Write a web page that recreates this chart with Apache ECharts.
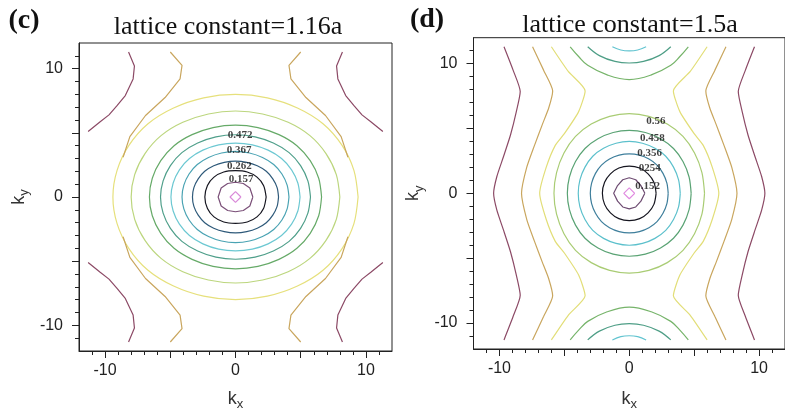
<!DOCTYPE html>
<html>
<head>
<meta charset="utf-8">
<script src="https://cdn.jsdelivr.net/npm/echarts@6/dist/echarts.min.js"></script>
<style>
  html, body { margin: 0; padding: 0; background: #fff; }
  #chart { width: 785px; height: 416px; }
</style>
</head>
<body>
<div id="chart"></div>
<script>
  // ticks
  const tickLabels = [-10, 0, 10];
  const majorTicks = [-10, -5, 0, 5, 10];
  const minorTicks = [-11, -10, -9, -8, -7, -6, -5, -4, -3, -2, -1, 0, 1, 2, 3, 4, 5, 6, 7, 8, 9, 10, 11];

  // (c) closed contours, inner to outer, one quadrant each: from (kx, 0) to (0, ky)
  const cRings = [
    [[0.42, 0], [0, 0.42]],
    [[1.33, 0], [1.1, 0.7], [0.6, 1.05], [0, 1.15]],
    [[2.35, 0], [2.15, 0.9], [1.65, 1.55], [0.9, 1.95], [0, 2.05]],
    [[3.3, 0], [3.19, 0.73], [2.86, 1.41], [2.36, 2.0], [1.67, 2.43], [0.86, 2.7], [0, 2.8]],
    [[4.1, 0], [3.96, 0.92], [3.56, 1.79], [2.93, 2.53], [2.07, 3.08], [1.07, 3.43], [0, 3.55]],
    [[4.95, 0], [4.78, 1.09], [4.3, 2.12], [3.53, 3.0], [2.5, 3.65], [1.29, 4.06], [0, 4.2]],
    [[5.75, 0], [5.55, 1.26], [4.99, 2.45], [4.11, 3.46], [2.9, 4.21], [1.5, 4.69], [0, 4.85]],
    [[6.6, 0], [6.38, 1.46], [5.73, 2.83], [4.71, 4.0], [3.33, 4.86], [1.72, 5.41], [0, 5.6]],
    [[8.0, 0], [7.73, 1.74], [6.94, 3.38], [5.71, 4.78], [4.04, 5.82], [2.08, 6.47], [0, 6.7]],
    [[9.4, 0], [9.08, 2.08], [8.16, 4.04], [6.71, 5.71], [4.75, 6.94], [2.44, 7.73], [0, 8.0]]
  ];
  // (c) open contours in the upper-left corner (same in every corner)
  const cCorner = [
    [[-5.0, 11.3], [-4.1, 10.25], [-4.25, 9.2], [-5.4, 7.75], [-6.9, 6.35], [-8.1, 4.7], [-8.62, 3.1]],
    [[-8.2, 11.3], [-7.75, 10.2], [-7.85, 9.2], [-8.45, 7.9], [-9.1, 7.1], [-9.7, 6.4], [-10.4, 5.85], [-11.3, 5.1]]
  ];
  const cLabels = [[0.35, 4.82, '0.472'], [0.27, 3.64, '0.367'], [0.29, 2.44, '0.262'], [0.44, 1.37, '0.157']];

  // (d) closed contours, inner to outer, one quadrant each
  const dRings = [
    [[0.42, 0], [0, 0.42]],
    [[1.2, 0], [0.9, 0.6], [0.5, 1.05], [0, 1.2]],
    [[2.07, 0], [1.9, 0.85], [1.45, 1.5], [0.8, 1.95], [0, 2.1]],
    [[3.0, 0], [2.9, 0.79], [2.6, 1.54], [2.14, 2.18], [1.52, 2.65], [0.78, 2.95], [0, 3.05]],
    [[3.93, 0], [3.8, 1.04], [3.41, 2.02], [2.81, 2.86], [1.98, 3.47], [1.02, 3.86], [0, 4.0]],
    [[4.77, 0], [4.61, 1.26], [4.14, 2.45], [3.41, 3.46], [2.41, 4.21], [1.24, 4.69], [0, 4.85]],
    [[5.8, 0], [5.6, 1.6], [5.03, 3.11], [4.14, 4.39], [2.93, 5.34], [1.51, 5.94], [0, 6.15]]
  ];
  // (d) open contours on the left side, top edge down to ky = 0
  const dSides = [
    [[-9.65, 11.3], [-8.95, 9.5], [-8.4, 7.85], [-8.7, 6.3], [-9.15, 4.5], [-9.7, 2.8], [-10.2, 1.3], [-10.45, 0]],
    [[-7.45, 11.3], [-6.6, 9.5], [-5.9, 7.9], [-6.2, 6.6], [-6.7, 5.3], [-7.3, 3.7], [-7.9, 2.0], [-8.3, 0]],
    [[-6.0, 11.3], [-4.7, 9.4], [-3.4, 7.9], [-3.9, 6.3], [-5.0, 4.6], [-5.7, 3.7], [-6.4, 2.0], [-6.9, 0]]
  ];
  // (d) arcs at the top edge, left half
  const dArcs = [
    [[-1.3, 11.3], [-0.65, 11.05], [0, 10.98]],
    [[-3.2, 11.3], [-2.3, 10.62], [-1.1, 10.17], [0, 10.05]],
    [[-4.55, 11.3], [-3.9, 10.55], [-3.2, 9.87], [-1.7, 9.13], [0, 8.77]]
  ];
  const dLabels = [[2.06, 5.6, '0.56'], [1.79, 4.28, '0.458'], [1.57, 3.1, '0.356'], [1.57, 1.91, '0254'], [1.42, 0.52, '0.152']];

  // colours
  const cRingColors = ['#d98ad9', '#7a4f78', '#15151f', '#2f5a7a', '#4aa3b3', '#6cc8d2', '#4f9f8a', '#66aa68', '#bcd67e', '#e6e07c'];
  const cCornerColors = ['#c9a65e', '#8c4a66'];
  const dRingColors = ['#e08ae0', '#6e4c72', '#15151f', '#3f7f9c', '#5cc0cc', '#5aa374', '#a9cc74'];
  const dSideColors = ['#8c4a66', '#c9a65e', '#e2de78'];
  const dArcColors = ['#62c4d0', '#4e9e86', '#76b46a'];

  function ring(q) {
    const pts = q.slice();
    for (let i = q.length - 2; i >= 0; i--) pts.push([-q[i][0], q[i][1]]);
    for (let i = 1; i < q.length; i++) pts.push([-q[i][0], -q[i][1]]);
    for (let i = q.length - 2; i >= 0; i--) pts.push([q[i][0], -q[i][1]]);
    return pts;
  }
  function side(h, sx) {
    const pts = h.map(p => [sx * p[0], p[1]]);
    for (let i = h.length - 2; i >= 0; i--) pts.push([sx * h[i][0], -h[i][1]]);
    return pts;
  }
  function arc(a, sy) {
    const pts = a.map(p => [p[0], sy * p[1]]);
    for (let i = a.length - 2; i >= 0; i--) pts.push([-a[i][0], sy * a[i][1]]);
    return pts;
  }
  function flip(c, sx, sy) {
    return c.map(p => [sx * p[0], sy * p[1]]);
  }
  function line(pts, color, ai, smooth) {
    return {
      type: 'line', xAxisIndex: ai, yAxisIndex: ai, data: pts,
      showSymbol: false, symbol: 'none', smooth: smooth, silent: true,
      lineStyle: { color: color, width: 1.2 }
    };
  }
  function labels(list, ai) {
    return {
      type: 'scatter', xAxisIndex: ai, yAxisIndex: ai, symbolSize: 0, silent: true, z: 5,
      data: list.map(l => ({ value: [l[0], l[1]], name: l[2] })),
      label: {
        show: true, position: 'inside', formatter: '{b}', color: '#111',
        fontFamily: 'Liberation Serif', fontWeight: 'bold', fontSize: 11
      }
    };
  }

  const series = [];
  cRings.forEach((q, i) => series.push(line(ring(q), cRingColors[i], 0, i < 2 ? 0 : 0.3)));
  cCorner.forEach((c, i) => {
    [[1, 1], [-1, 1], [1, -1], [-1, -1]].forEach(s => series.push(line(flip(c, s[0], s[1]), cCornerColors[i], 0, 0)));
  });
  series.push(labels(cLabels, 0));
  dRings.forEach((q, i) => series.push(line(ring(q), dRingColors[i], 2, i < 2 ? 0 : 0.3)));
  dSides.forEach((h, i) => {
    series.push(line(side(h, 1), dSideColors[i], 2, 0.2));
    series.push(line(side(h, -1), dSideColors[i], 2, 0.2));
  });
  dArcs.forEach((a, i) => {
    series.push(line(arc(a, 1), dArcColors[i], 2, 0.4));
    series.push(line(arc(a, -1), dArcColors[i], 2, 0.4));
  });
  series.push(labels(dLabels, 2));

  const axisColor = '#222';
  const nameRich = {
    k: { fontSize: 18, lineHeight: 24, fontFamily: 'Liberation Sans', color: '#333' },
    s: { fontSize: 13, lineHeight: 13, verticalAlign: 'bottom', fontFamily: 'Liberation Sans', color: '#333' }
  };
  function mainAxis(dim, gi, nameGap) {
    return {
      type: 'value', gridIndex: gi, min: -12, max: 12,
      position: dim === 'x' ? 'bottom' : 'left',
      axisLine: { show: true, onZero: false, lineStyle: { color: axisColor, width: 1 } },
      axisTick: { show: true, customValues: minorTicks, length: 4, lineStyle: { color: axisColor } },
      axisLabel: {
        show: true, customValues: tickLabels, margin: dim === 'x' ? 12 : 16,
        color: '#222', fontSize: 16, fontFamily: 'Liberation Sans'
      },
      splitLine: { show: false },
      name: dim === 'x' ? '{k|k}{s|x}' : '{k|k}{s|y}',
      nameLocation: 'middle', nameGap: nameGap, nameRotate: dim === 'x' ? 0 : 90,
      nameTextStyle: { rich: nameRich }
    };
  }
  function majorAxis(dim, gi) {
    return {
      type: 'value', gridIndex: gi, min: -12, max: 12,
      position: dim === 'x' ? 'bottom' : 'left',
      axisLine: { show: false, onZero: false },
      axisTick: { show: true, customValues: majorTicks, length: 7, lineStyle: { color: axisColor } },
      axisLabel: { show: false },
      splitLine: { show: false }
    };
  }

  const chart = echarts.init(document.getElementById('chart'));
  chart.setOption({
    animation: false,
    backgroundColor: '#fff',
    grid: [
      { left: 79, top: 43, width: 313, height: 313, show: true, borderColor: axisColor, borderWidth: 1 },
      { left: 473.5, top: 37.7, width: 321.6, height: 321.6, show: true, borderColor: axisColor, borderWidth: 1 }
    ],
    xAxis: [mainAxis('x', 0, 36), majorAxis('x', 0), mainAxis('x', 1, 38), majorAxis('x', 1)],
    yAxis: [mainAxis('y', 0, 48), majorAxis('y', 0), mainAxis('y', 1, 48), majorAxis('y', 1)],
    graphic: [
      { type: 'text', x: 24, y: 21, style: { text: '(c)', font: 'bold 28px "Liberation Serif"', fill: '#111', textAlign: 'center', textVerticalAlign: 'middle' } },
      { type: 'text', x: 228, y: 27, style: { text: 'lattice constant=1.16a', font: '26px "Liberation Serif"', fill: '#111', textAlign: 'center', textVerticalAlign: 'middle' } },
      { type: 'text', x: 427, y: 20, style: { text: '(d)', font: 'bold 28px "Liberation Serif"', fill: '#111', textAlign: 'center', textVerticalAlign: 'middle' } },
      { type: 'text', x: 630, y: 25, style: { text: 'lattice constant=1.5a', font: '26px "Liberation Serif"', fill: '#111', textAlign: 'center', textVerticalAlign: 'middle' } }
    ],
    series: series
  });
</script>
</body>
</html>
